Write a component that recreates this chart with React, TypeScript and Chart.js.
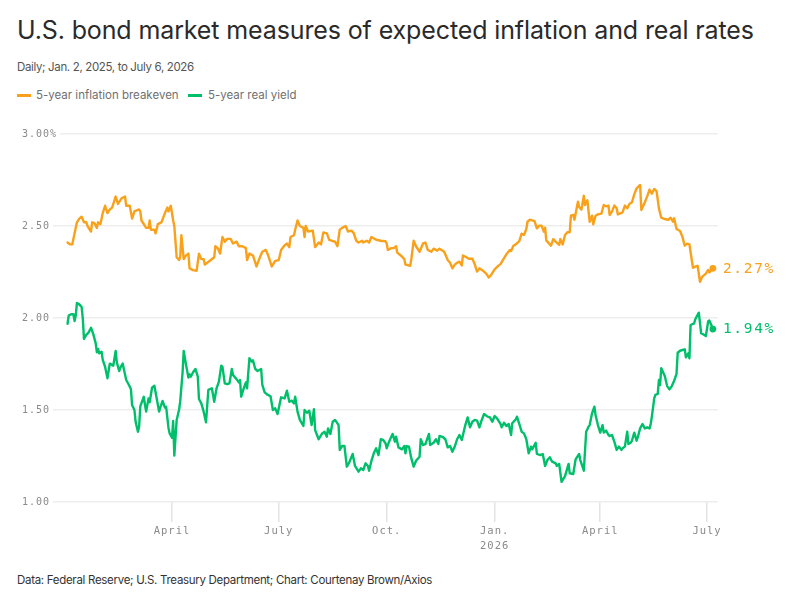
import React, { useEffect, useRef } from "react";
import { Chart, registerables } from "chart.js";

Chart.register(...registerables);

// x values are calendar days counted from 2025-01-01 (day 0)
const breakevenDays = [
  1, 3, 5, 7, 9, 11, 13, 15, 17, 18,
  21, 22, 24, 26, 27, 29, 31, 33, 35, 37,
  39, 42, 44, 47, 50, 51, 54, 56, 58, 62,
  63, 64, 68, 70, 71, 72, 75, 76, 78, 81,
  84, 86, 87, 89, 91, 92, 94, 96, 97, 98,
  100, 102, 104, 105, 108, 111, 113, 115, 117, 118,
  122, 126, 127, 129, 131, 133, 135, 137, 140, 142,
  145, 147, 150, 153, 154, 156, 159, 162, 164, 167,
  170, 172, 175, 178, 181, 183, 186, 188, 190, 191,
  194, 195, 197, 199, 202, 203, 204, 206, 210, 212,
  215, 217, 219, 222, 224, 226, 229, 231, 233, 235,
  238, 240, 243, 245, 247, 249, 252, 253, 256, 258,
  260, 264, 268, 272, 273, 274, 277, 279, 281, 282,
  285, 288, 289, 293, 294, 296, 298, 301, 304, 306,
  308, 311, 313, 316, 318, 322, 325, 327, 329, 331,
  333, 335, 337, 338, 341, 343, 346, 348, 350, 352,
  355, 358, 360, 362, 365, 368, 370, 372, 375, 378,
  379, 381, 383, 386, 388, 390, 392, 393, 395, 397,
  399, 401, 403, 405, 407, 408, 409, 412, 413, 415,
  417, 420, 421, 423, 425, 427, 429, 430, 432, 433,
  436, 437, 439, 441, 442, 444, 446, 448, 449, 451,
  453, 456, 458, 460, 462, 463, 465, 467, 469, 470,
  472, 474, 476, 478, 480, 482, 484, 486, 489, 490,
  493, 495, 497, 499, 501, 503, 505, 507, 510, 513,
  515, 517, 518, 520, 523, 525, 527, 529, 531, 534,
  536, 538, 540, 542, 545, 547, 548, 551,
];
const breakevenValues = [
  2.41, 2.40, 2.40, 2.46, 2.52, 2.54, 2.55, 2.52, 2.52, 2.50,
  2.47, 2.52, 2.515, 2.49, 2.52, 2.51, 2.57, 2.61, 2.57, 2.59,
  2.60, 2.66, 2.62, 2.65, 2.66, 2.61, 2.61, 2.54, 2.58, 2.59,
  2.58, 2.53, 2.49, 2.49, 2.53, 2.48, 2.48, 2.46, 2.51, 2.52,
  2.57, 2.60, 2.58, 2.61, 2.53, 2.50, 2.33, 2.315, 2.33, 2.45,
  2.32, 2.34, 2.35, 2.27, 2.26, 2.257, 2.35, 2.32, 2.32, 2.29,
  2.31, 2.33, 2.39, 2.38, 2.35, 2.44, 2.415, 2.43, 2.43, 2.405,
  2.415, 2.39, 2.39, 2.38, 2.315, 2.35, 2.34, 2.28, 2.315, 2.36,
  2.37, 2.34, 2.28, 2.31, 2.315, 2.37, 2.395, 2.405, 2.385, 2.44,
  2.45, 2.48, 2.53, 2.50, 2.49, 2.44, 2.50, 2.47, 2.475, 2.385,
  2.41, 2.40, 2.465, 2.46, 2.425, 2.42, 2.415, 2.39, 2.48, 2.49,
  2.50, 2.47, 2.475, 2.46, 2.42, 2.41, 2.42, 2.41, 2.42, 2.41,
  2.44, 2.425, 2.42, 2.417, 2.405, 2.37, 2.38, 2.38, 2.39, 2.355,
  2.34, 2.32, 2.29, 2.284, 2.32, 2.42, 2.39, 2.36, 2.405, 2.41,
  2.37, 2.36, 2.377, 2.366, 2.377, 2.36, 2.315, 2.30, 2.27, 2.29,
  2.30, 2.306, 2.286, 2.34, 2.33, 2.322, 2.322, 2.293, 2.252, 2.27,
  2.257, 2.24, 2.22, 2.234, 2.264, 2.283, 2.293, 2.315, 2.346, 2.37,
  2.364, 2.393, 2.40, 2.418, 2.458, 2.451, 2.484, 2.523, 2.534, 2.531,
  2.527, 2.487, 2.502, 2.502, 2.469, 2.491, 2.422, 2.40, 2.393, 2.429,
  2.415, 2.397, 2.429, 2.40, 2.451, 2.466, 2.466, 2.556, 2.56, 2.534,
  2.632, 2.603, 2.589, 2.664, 2.614, 2.64, 2.523, 2.556, 2.509, 2.556,
  2.563, 2.567, 2.614, 2.607, 2.611, 2.56, 2.578, 2.611, 2.596, 2.563,
  2.569, 2.574, 2.611, 2.596, 2.621, 2.629, 2.672, 2.705, 2.723, 2.587,
  2.629, 2.661, 2.698, 2.676, 2.701, 2.69, 2.596, 2.545, 2.538, 2.534,
  2.545, 2.523, 2.542, 2.484, 2.473, 2.442, 2.393, 2.404, 2.40, 2.273,
  2.279, 2.284, 2.197, 2.225, 2.241, 2.261, 2.248, 2.27,
];

const realYieldDays = [
  1, 2, 4, 6, 7, 8, 9, 11, 13, 14,
  15, 17, 19, 21, 23, 25, 26, 27, 28, 30,
  31, 33, 35, 37, 40, 42, 43, 45, 46, 48,
  51, 53, 55, 56, 58, 59, 61, 62, 63, 66,
  67, 68, 70, 71, 73, 75, 77, 79, 80, 82,
  84, 85, 87, 88, 90, 91, 92, 94, 96, 97,
  99, 100, 102, 104, 105, 106, 108, 110, 112, 113,
  115, 117, 119, 121, 124, 126, 128, 130, 132, 133,
  135, 137, 139, 141, 142, 145, 147, 148, 149, 151,
  153, 154, 156, 158, 159, 161, 163, 166, 167, 169,
  171, 174, 176, 178, 180, 183, 186, 188, 190, 192,
  194, 195, 197, 199, 202, 203, 205, 207, 209, 211,
  212, 215, 218, 220, 222, 223, 225, 227, 229, 232,
  233, 235, 237, 239, 241, 244, 246, 249, 251, 253,
  255, 257, 258, 260, 262, 264, 266, 268, 270, 272,
  273, 275, 278, 280, 281, 283, 286, 288, 289, 290,
  292, 294, 296, 298, 301, 302, 304, 306, 309, 310,
  313, 315, 317, 318, 321, 323, 325, 327, 329, 331,
  333, 335, 337, 339, 340, 342, 344, 346, 348, 350,
  352, 354, 356, 359, 361, 363, 365, 367, 370, 371,
  373, 375, 377, 379, 380, 383, 384, 386, 388, 390,
  392, 394, 396, 397, 400, 401, 404, 406, 408, 410,
  412, 414, 417, 418, 420, 422, 425, 428, 429, 432,
  434, 437, 438, 441, 443, 445, 446, 448, 450, 451,
  453, 455, 457, 458, 460, 462, 463, 465, 467, 469,
  471, 473, 474, 476, 478, 479, 481, 482, 484, 486,
  487, 489, 491, 493, 495, 497, 498, 499, 501, 502,
  504, 505, 506, 507, 510, 512, 514, 516, 518, 520,
  521, 523, 525, 527, 528, 530, 531, 532, 535, 536,
  539, 541, 543, 545, 547, 548, 550, 551,
];
const realYieldValues = [
  1.969, 2.013, 2.02, 2.02, 1.984, 2.013, 2.082, 2.074, 2.06, 1.998,
  1.886, 1.908, 1.922, 1.947, 1.911, 1.862, 1.814, 1.832, 1.808, 1.817,
  1.772, 1.735, 1.672, 1.752, 1.741, 1.821, 1.759, 1.712, 1.73, 1.752,
  1.663, 1.64, 1.614, 1.527, 1.50, 1.436, 1.382, 1.409, 1.52, 1.572,
  1.527, 1.491, 1.563, 1.542, 1.621, 1.632, 1.563, 1.491, 1.513, 1.549,
  1.513, 1.518, 1.404, 1.373, 1.349, 1.44, 1.252, 1.446, 1.50, 1.545,
  1.70, 1.821, 1.745, 1.676, 1.694, 1.681, 1.705, 1.723, 1.681, 1.56,
  1.536, 1.491, 1.433, 1.609, 1.618, 1.545, 1.618, 1.654, 1.741, 1.735,
  1.645, 1.64, 1.645, 1.723, 1.69, 1.668, 1.65, 1.663, 1.572, 1.614,
  1.65, 1.618, 1.781, 1.763, 1.77, 1.723, 1.712, 1.723, 1.636, 1.596,
  1.585, 1.575, 1.50, 1.509, 1.478, 1.569, 1.563, 1.605, 1.545, 1.551,
  1.536, 1.572, 1.491, 1.446, 1.413, 1.50, 1.485, 1.496, 1.418, 1.504,
  1.391, 1.341, 1.373, 1.382, 1.355, 1.40, 1.37, 1.436, 1.446, 1.418,
  1.283, 1.304, 1.304, 1.192, 1.214, 1.261, 1.196, 1.165, 1.183, 1.174,
  1.21, 1.196, 1.17, 1.224, 1.265, 1.292, 1.255, 1.341, 1.337, 1.319,
  1.292, 1.328, 1.37, 1.328, 1.355, 1.297, 1.286, 1.304, 1.265, 1.304,
  1.301, 1.237, 1.192, 1.224, 1.246, 1.341, 1.31, 1.315, 1.37, 1.31,
  1.322, 1.341, 1.315, 1.359, 1.352, 1.341, 1.297, 1.304, 1.273, 1.301,
  1.341, 1.364, 1.337, 1.391, 1.418, 1.46, 1.406, 1.436, 1.446, 1.442,
  1.406, 1.446, 1.478, 1.464, 1.46, 1.436, 1.467, 1.455, 1.424, 1.406,
  1.431, 1.413, 1.424, 1.364, 1.428, 1.449, 1.464, 1.424, 1.382, 1.373,
  1.341, 1.265, 1.301, 1.286, 1.322, 1.261, 1.255, 1.261, 1.196, 1.228,
  1.243, 1.219, 1.21, 1.196, 1.207, 1.11, 1.141, 1.207, 1.156, 1.152,
  1.232, 1.261, 1.228, 1.17, 1.382, 1.409, 1.418, 1.482, 1.518, 1.473,
  1.418, 1.377, 1.418, 1.377, 1.388, 1.364, 1.359, 1.364, 1.328, 1.283,
  1.301, 1.283, 1.292, 1.301, 1.382, 1.315, 1.322, 1.333, 1.377, 1.333,
  1.352, 1.40, 1.424, 1.40, 1.406, 1.40, 1.424, 1.464, 1.563, 1.582,
  1.587, 1.663, 1.636, 1.727, 1.685, 1.63, 1.612, 1.63, 1.659, 1.696,
  1.811, 1.822, 1.826, 1.83, 1.786, 1.808, 1.781, 1.962, 1.971, 1.993,
  2.029, 1.917, 1.91, 1.902, 1.982, 1.986, 1.957, 1.94,
];

// x-axis ticks: first day of each labelled month (days since 2025-01-01)
const tickDays = [90, 181, 273, 365, 455, 546];
const tickLabels: (string | string[])[] = ["April", "July", "Oct.", ["Jan.", "2026"], "April", "July"];
const yTicks = [1, 1.5, 2, 2.5, 3];
const yTickLabels = ["1.00", "1.50", "2.00", "2.50", "3.00%"];

const ORANGE = "#F9A11B";
const GREEN = "#00BF6B";
const MONO = '"DejaVu Sans Mono", "Liberation Mono", monospace';
const SANS = 'Inter, "Noto Sans", sans-serif';

const letterSpacingPlugin = {
  id: "letterSpacing",
  beforeLayout(chart: any) {
    chart.ctx.letterSpacing = "1px";
  },
  beforeDraw(chart: any) {
    chart.ctx.letterSpacing = "1px";
  },
};

// y-axis labels, left aligned, with the grid line cut back where a label overruns it
const yLabelPlugin = {
  id: "yLabels",
  beforeDatasetsDraw(chart: any) {
    const ctx = chart.ctx;
    const y = chart.scales.y;
    const left = chart.chartArea.left;
    ctx.save();
    ctx.font = `10px ${MONO}`;
    ctx.letterSpacing = "1px";
    ctx.textAlign = "left";
    ctx.textBaseline = "middle";
    yTicks.forEach((v, i) => {
      const py = y.getPixelForValue(v);
      const label = yTickLabels[i];
      const w = ctx.measureText(label).width;
      const end = 22 + w + 3;
      if (end > left) {
        ctx.fillStyle = "#ffffff";
        ctx.fillRect(left - 1, py - 2, end - left + 1, 4);
      }
      ctx.fillStyle = "#8a8a8a";
      ctx.fillText(label, 22, py + 0.5);
    });
    ctx.restore();
  },
};

const endLabelPlugin = {
  id: "endLabels",
  afterDatasetsDraw(chart: any) {
    const ctx = chart.ctx;
    chart.data.datasets.forEach((ds: any, i: number) => {
      const meta = chart.getDatasetMeta(i);
      const pt = meta.data[meta.data.length - 1];
      const last = ds.data[ds.data.length - 1].y;
      ctx.save();
      ctx.fillStyle = ds.borderColor;
      ctx.beginPath();
      ctx.arc(pt.x, pt.y, 3.4, 0, Math.PI * 2);
      ctx.fill();
      ctx.font = `14.5px ${MONO}`;
      ctx.letterSpacing = "1.7px";
      ctx.textAlign = "left";
      ctx.textBaseline = "middle";
      ctx.fillText(last.toFixed(2) + "%", pt.x + 10, pt.y + 0.5);
      ctx.restore();
    });
  },
};

function ChartCanvas() {
  const ref = useRef<HTMLCanvasElement | null>(null);
  useEffect(() => {
    if (!ref.current) return;
    const breakeven = breakevenDays.map((d, i) => ({ x: d, y: breakevenValues[i] }));
    const real = realYieldDays.map((d, i) => ({ x: d, y: realYieldValues[i] }));
    const chart = new Chart(ref.current, {
      type: "line",
      data: {
        datasets: [
          {
            label: "5-year inflation breakeven",
            data: breakeven,
            borderColor: ORANGE,
            backgroundColor: ORANGE,
            borderWidth: 2.4,
            pointRadius: 0,
            tension: 0,
            borderJoinStyle: "round",
            borderCapStyle: "round",
          },
          {
            label: "5-year real yield",
            data: real,
            borderColor: GREEN,
            backgroundColor: GREEN,
            borderWidth: 2.4,
            pointRadius: 0,
            tension: 0,
            borderJoinStyle: "round",
            borderCapStyle: "round",
          },
        ],
      },
      options: {
        animation: false,
        responsive: false,
        events: [],
        layout: { padding: { left: 22, right: 76.3, top: 24, bottom: 0 } },
        plugins: {
          legend: { display: false },
          tooltip: { enabled: false },
        },
        scales: {
          x: {
            type: "linear",
            min: -11.4,
            max: 555.1,
            afterBuildTicks: (scale: any) => {
              scale.ticks = tickDays.map((v) => ({ value: v }));
            },
            afterFit: (scale: any) => {
              scale.height = 58;
            },
            border: { display: false },
            grid: {
              drawOnChartArea: false,
              drawTicks: true,
              tickLength: 20,
              color: "#e3e3e3",
              lineWidth: 1.5,
            },
            ticks: {
              autoSkip: false,
              maxRotation: 0,
              padding: 1,
              color: "#8a8a8a",
              font: { family: MONO, size: 10.5, lineHeight: 1.5 },
              callback: (_v: any, i: number) => tickLabels[i],
            },
          },
          y: {
            min: 1,
            max: 3,
            afterBuildTicks: (scale: any) => {
              scale.ticks = yTicks.map((v) => ({ value: v }));
            },
            afterFit: (scale: any) => {
              scale.width = 31;
            },
            border: { display: false },
            grid: {
              drawTicks: false,
              color: "#ededed",
              lineWidth: 1.5,
            },
            ticks: { display: false },
          },
        },
      } as any,
      plugins: [letterSpacingPlugin, yLabelPlugin, endLabelPlugin],
    });
    return () => chart.destroy();
  }, []);
  return (
    <canvas
      ref={ref}
      width={794}
      height={450}
      style={{ position: "absolute", left: 0, top: 110, width: 794, height: 450 }}
    />
  );
}

export default function App() {
  const text = (extra: React.CSSProperties): React.CSSProperties => ({
    position: "absolute",
    fontFamily: SANS,
    whiteSpace: "nowrap",
    margin: 0,
    ...extra,
  });
  return (
    <div
      style={{
        position: "absolute",
        left: 0,
        top: 0,
        width: 794,
        height: 604,
        background: "#ffffff",
        overflow: "hidden",
      }}
    >
      <div style={text({ left: 17, top: 15, fontSize: 25, lineHeight: "30px", color: "#2a2a2a", letterSpacing: "-0.12px" })}>
        U.S. bond market measures of expected inflation and real rates
      </div>
      <div style={text({ left: 17, top: 60, fontSize: 11.5, lineHeight: "14px", color: "#555555", letterSpacing: "-0.35px" })}>
        Daily; Jan. 2, 2025, to July 6, 2026
      </div>
      <div style={{ position: "absolute", left: 17, top: 94, width: 14, height: 3, background: ORANGE }} />
      <div style={text({ left: 36, top: 88, fontSize: 11.5, lineHeight: "14px", color: "#707070" })}>
        5-year inflation breakeven
      </div>
      <div style={{ position: "absolute", left: 188, top: 94, width: 14, height: 3, background: GREEN }} />
      <div style={text({ left: 208, top: 88, fontSize: 11.5, lineHeight: "14px", color: "#707070" })}>
        5-year real yield
      </div>
      <ChartCanvas />
      <div style={text({ left: 17, top: 573, fontSize: 11.5, lineHeight: "14px", color: "#333333", letterSpacing: "-0.3px" })}>
        Data: Federal Reserve; U.S. Treasury Department; Chart: Courtenay Brown/Axios
      </div>
    </div>
  );
}
